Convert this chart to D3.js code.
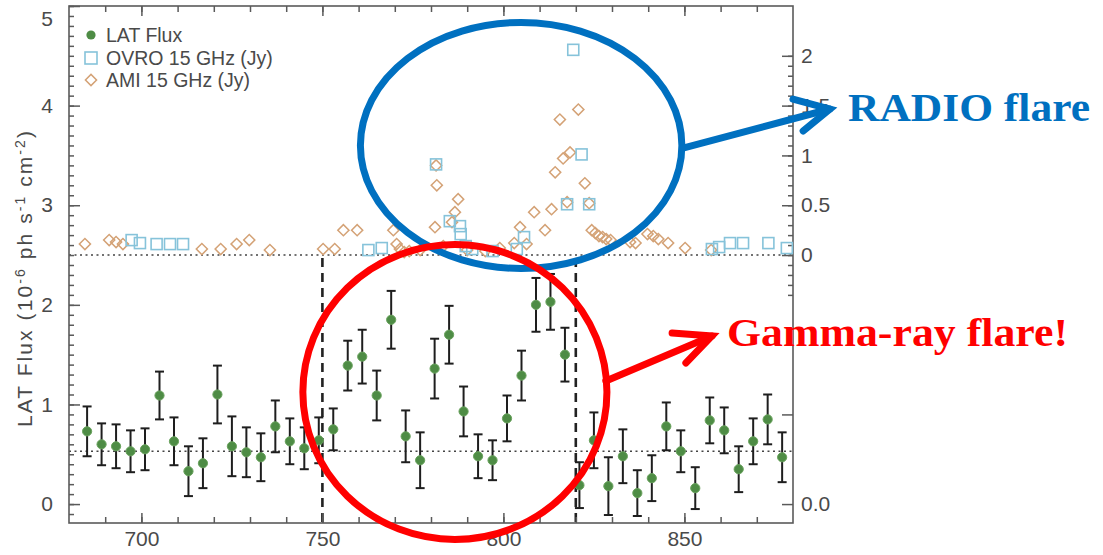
<!DOCTYPE html>
<html><head><meta charset="utf-8">
<script src="https://cdn.jsdelivr.net/npm/d3@7/dist/d3.min.js"></script>
<style>
body{margin:0;background:#fff;}
svg{display:block;font-family:"Liberation Sans",Arial,Helvetica,sans-serif;}
</style>
</head><body>
<svg id="chart" width="1103" height="555"></svg>
<script>
// ---------------- data ----------------
const latDays = [685,689,693,697,701,705,709,713,717,721,725,729,733,737,741,745,749,753,757,761,765,769,773,777,781,785,789,793,797,801,805,809,813,817,821,825,829,833,837,841,845,849,853,857,861,865,869,873,877];
const latFlux = [0.73,0.60,0.58,0.53,0.55,1.09,0.63,0.33,0.41,1.10,0.58,0.52,0.47,0.78,0.63,0.56,0.64,0.75,1.39,1.48,1.09,1.85,0.68,0.44,1.36,1.70,0.93,0.48,0.44,0.86,1.29,2.00,2.03,1.50,0.19,0.64,0.18,0.48,0.11,0.26,0.78,0.53,0.16,0.84,0.74,0.35,0.63,0.85,0.47];
const latErr  = [0.25,0.21,0.22,0.21,0.21,0.24,0.24,0.25,0.25,0.29,0.30,0.25,0.24,0.26,0.23,0.21,0.23,0.21,0.25,0.27,0.25,0.29,0.26,0.28,0.30,0.29,0.25,0.22,0.20,0.23,0.25,0.27,0.28,0.27,0.23,0.28,0.29,0.27,0.23,0.23,0.24,0.21,0.21,0.23,0.23,0.23,0.23,0.25,0.25];

const ovroDays = [697.3,699.6,704.2,707.9,711.5,762.7,766.4,781.4,785.2,788.0,788.2,789.6,791.4,797.0,803.7,805.7,817.6,819.3,821.6,823.7,857.6,859.6,862.6,866.2,873.2,878.3];
const ovroJy   = [0.15,0.12,0.11,0.11,0.11,0.05,0.07,0.91,0.34,0.29,0.21,0.09,0.06,0.04,0.06,0.18,0.51,2.06,1.01,0.51,0.06,0.08,0.12,0.12,0.12,0.07];

const amiDays = [684.4,691.1,693.0,694.9,716.7,721.9,726.3,729.8,735.5,750.2,753.4,755.8,759.6,769.6,770.5,771.4,772.6,774.0,777.0,781.1,781.4,781.6,783.4,785.8,786.6,787.5,790.0,795.0,799.0,803.0,804.6,806.4,808.5,811.5,813.3,814.3,815.6,816.5,817.6,818.4,820.7,822.5,823.7,824.4,825.4,826.4,827.4,828.4,829.6,835.0,836.5,839.8,841.4,842.8,845.5,850.2,857.4];
const amiJy   = [0.11,0.15,0.13,0.11,0.06,0.06,0.11,0.15,0.05,0.06,0.06,0.25,0.25,0.25,0.11,0.06,0.03,0.04,0.05,0.28,0.90,0.70,0.09,0.33,0.43,0.56,0.05,0.04,0.07,0.12,0.28,0.11,0.43,0.25,0.46,0.83,1.36,0.97,0.53,1.03,1.46,0.72,0.52,0.25,0.22,0.19,0.18,0.16,0.15,0.13,0.12,0.21,0.19,0.16,0.12,0.07,0.05];

const xTickLabels = [700,750,800,850];
const leftTickLabels = [0,1,2,3,4,5];
const rightTickLabels = [0,0.5,1,1.5,2];
const lowerRightTicks = [0,0.9];
const meanLatFlux = 0.53;
const radioBaselineLat = 2.5;      // Jy = 0 on the right axis
const flareWindow = [750,820];
const legendLabels = ["LAT Flux","OVRO 15 GHz (Jy)","AMI 15 GHz (Jy)"];

// ---------------- layout ----------------
const svg = d3.select("#chart");
const L = 69, R = 793, T = 6, B = 523;
const x = d3.scaleLinear().domain([680,880]).range([L,R]);
const y = d3.scaleLinear().domain([-0.19,5.0]).range([B,T]);
const yJy = d3.scaleLinear().domain([-0.19-radioBaselineLat,5.0-radioBaselineLat]).range([B,T]);

const axisColor = "#5a5a5a", labelColor = "#4a4a4a";

// reference dotted lines
[radioBaselineLat, meanLatFlux].forEach(v=>{
  svg.append("line").attr("x1",L).attr("x2",R).attr("y1",y(v)).attr("y2",y(v))
    .attr("stroke","#444").attr("stroke-width",1.6).attr("stroke-dasharray","2,3.5");
});
// dashed flare window
flareWindow.forEach(d=>{
  svg.append("line").attr("x1",x(d)).attr("x2",x(d)).attr("y1",y(radioBaselineLat)+3).attr("y2",B)
    .attr("stroke","#222").attr("stroke-width",2.6).attr("stroke-dasharray","9,6");
});

// ---------------- axes ----------------
function styleAxis(g){
  g.selectAll(".domain").remove();
  g.selectAll("line").attr("stroke",axisColor).attr("stroke-width",1.5);
  g.selectAll("text").attr("fill",labelColor).style("font-size","21px").style("font-family","Liberation Sans, Arial, sans-serif");
}
// left
svg.append("g").attr("transform",`translate(${L},0)`)
  .call(d3.axisLeft(y).tickValues(d3.range(-0.1,5.001,0.1)).tickSize(-5).tickFormat("")).call(styleAxis);
svg.append("g").attr("transform",`translate(${L},0)`)
  .call(d3.axisLeft(y).tickValues(leftTickLabels).tickSize(-11).tickPadding(16).tickFormat(d3.format("d")))
  .call(styleAxis)
  .call(g=>g.selectAll("text").filter(d=>d===5).attr("dy","0.95em"));
// right (Jy)
svg.append("g").attr("transform",`translate(${R},0)`)
  .call(d3.axisRight(yJy).tickValues(d3.range(-0.4,2.001,0.1)).tickSize(-5).tickFormat("")).call(styleAxis);
svg.append("g").attr("transform",`translate(${R},0)`)
  .call(d3.axisRight(yJy).tickValues(rightTickLabels).tickSize(-11).tickPadding(8).tickFormat(d=>String(d))).call(styleAxis);
// lower right
svg.append("g").attr("transform",`translate(${R},0)`)
  .call(d3.axisRight(y).tickValues(lowerRightTicks).tickSize(-11).tickPadding(8).tickFormat(d=>d===0?"0.0":"")).call(styleAxis);
// bottom
svg.append("g").attr("transform",`translate(0,${B})`)
  .call(d3.axisBottom(x).tickValues(d3.range(690,880,10)).tickSize(-6).tickFormat("")).call(styleAxis);
svg.append("g").attr("transform",`translate(0,${B})`)
  .call(d3.axisBottom(x).tickValues(xTickLabels).tickSize(-10).tickPadding(8).tickFormat(d3.format("d"))).call(styleAxis);
// top
svg.append("g").attr("transform",`translate(0,${T})`)
  .call(d3.axisTop(x).tickValues(d3.range(690,880,10)).tickSize(-6).tickFormat("")).call(styleAxis);
svg.append("g").attr("transform",`translate(0,${T})`)
  .call(d3.axisTop(x).tickValues(xTickLabels).tickSize(-10).tickFormat("")).call(styleAxis);
// frame
svg.append("rect").attr("x",L).attr("y",T).attr("width",R-L).attr("height",B-T)
  .attr("fill","none").attr("stroke",axisColor).attr("stroke-width",1.6);

// y label
const yl = svg.append("text").attr("transform",`translate(32,${279}) rotate(-90)`)
  .attr("text-anchor","middle").attr("fill",labelColor).style("font-size","21px")
  .attr("textLength",296).attr("lengthAdjust","spacing");
yl.append("tspan").text("LAT Flux (10");
yl.append("tspan").attr("dy",-7).style("font-size","14px").text("-6");
yl.append("tspan").attr("dy",7).text(" ph s");
yl.append("tspan").attr("dy",-7).style("font-size","14px").text("-1");
yl.append("tspan").attr("dy",7).text(" cm");
yl.append("tspan").attr("dy",-7).style("font-size","14px").text("-2");
yl.append("tspan").attr("dy",7).text(")");

// ---------------- radio marks ----------------
const amiColor = "#d4a276", ovroColor = "#86c3da";
const diamond = d3.symbol().type(d3.symbolSquare).size(62);
svg.append("g").selectAll("path").data(amiDays.map((d,i)=>[d,amiJy[i]])).join("path")
  .attr("d",diamond)
  .attr("transform",d=>`translate(${x(d[0])},${yJy(d[1])}) rotate(45)`)
  .attr("fill","none").attr("stroke",amiColor).attr("stroke-width",1.5);
svg.append("g").selectAll("rect").data(ovroDays.map((d,i)=>[d,ovroJy[i]])).join("rect")
  .attr("x",d=>x(d[0])-5.5).attr("y",d=>yJy(d[1])-5.5).attr("width",11).attr("height",11)
  .attr("fill","none").attr("stroke",ovroColor).attr("stroke-width",1.6);

// ---------------- LAT marks ----------------
const lat = latDays.map((d,i)=>({d, f:latFlux[i], e:latErr[i]}));
const eb = svg.append("g").attr("stroke","#1e1e1e").attr("stroke-width",2);
eb.selectAll(".v").data(lat).join("line").attr("x1",d=>x(d.d)).attr("x2",d=>x(d.d))
  .attr("y1",d=>y(d.f+d.e)).attr("y2",d=>y(d.f-d.e));
eb.selectAll(".t").data(lat).join("line").attr("x1",d=>x(d.d)-4.5).attr("x2",d=>x(d.d)+4.5)
  .attr("y1",d=>y(d.f+d.e)).attr("y2",d=>y(d.f+d.e));
eb.selectAll(".b").data(lat).join("line").attr("x1",d=>x(d.d)-4.5).attr("x2",d=>x(d.d)+4.5)
  .attr("y1",d=>y(d.f-d.e)).attr("y2",d=>y(d.f-d.e));
svg.append("g").selectAll("circle").data(lat).join("circle")
  .attr("cx",d=>x(d.d)).attr("cy",d=>y(d.f)).attr("r",4.6)
  .attr("fill","#4e8c45").attr("stroke","#6aa35e").attr("stroke-width",1);

// ---------------- legend ----------------
const lg = svg.append("g");
const legendY = [35,58,80];
lg.append("circle").attr("cx",91).attr("cy",legendY[0]).attr("r",4.6).attr("fill","#4e8c45");
lg.append("rect").attr("x",85).attr("y",legendY[1]-6).attr("width",12).attr("height",12)
  .attr("fill","none").attr("stroke",ovroColor).attr("stroke-width",1.6);
lg.append("path").attr("d",diamond).attr("transform",`translate(91,${legendY[2]}) rotate(45)`)
  .attr("fill","none").attr("stroke",amiColor).attr("stroke-width",1.5);
legendLabels.forEach((t,i)=>{
  lg.append("text").attr("x",106).attr("y",legendY[i]+7).attr("fill",labelColor)
    .style("font-size","19.5px").text(t);
});

// ---------------- annotations ----------------
const blueEllipse = {cx:804.9, cy:3.6, rx:44.4, ry:1.235};
const redEllipse  = {cx:786.6, cy:1.125, rx:42.0, ry:1.48};
function ell(e,color){
  svg.append("ellipse").attr("cx",x(e.cx)).attr("cy",y(e.cy))
    .attr("rx",x(e.cx+e.rx)-x(e.cx)).attr("ry",y(e.cy-e.ry)-y(e.cy))
    .attr("fill","none").attr("stroke",color).attr("stroke-width",7);
}
ell(blueEllipse,"#0070c0");
ell(redEllipse,"#ff0000");

function arrow(pts,color){
  // pts: shaft start, tip, barb1, barb2 in data units (day, LAT)
  const p = pts.map(q=>[x(q[0]),y(q[1])]);
  const line = d3.line();
  svg.append("path").attr("d",line([p[0],p[1]])).attr("stroke",color).attr("stroke-width",7)
    .attr("fill","none").attr("stroke-linecap","round");
  svg.append("path").attr("d",line([p[2],p[1],p[3]])).attr("stroke",color).attr("stroke-width",7)
    .attr("fill","none").attr("stroke-linecap","round").attr("stroke-linejoin","miter");
}
arrow([[849.6,3.574],[890.2,3.966],[880.0,4.066],[882.8,3.745]],"#0070c0");
arrow([[828.3,1.235],[857.6,1.687],[846.6,1.717],[850.4,1.416]],"#ff0000");

svg.append("text").attr("x",848).attr("y",121).attr("fill","#0070c0")
  .attr("textLength",242).attr("lengthAdjust","spacingAndGlyphs")
  .style("font-family","Liberation Serif, Times New Roman, serif").style("font-weight","bold").style("font-size","41px")
  .text("RADIO flare");
svg.append("text").attr("x",727).attr("y",346).attr("fill","#ff0000")
  .attr("textLength",341).attr("lengthAdjust","spacingAndGlyphs")
  .style("font-family","Liberation Serif, Times New Roman, serif").style("font-weight","bold").style("font-size","41px")
  .text("Gamma-ray flare!");
</script>
</body></html>
